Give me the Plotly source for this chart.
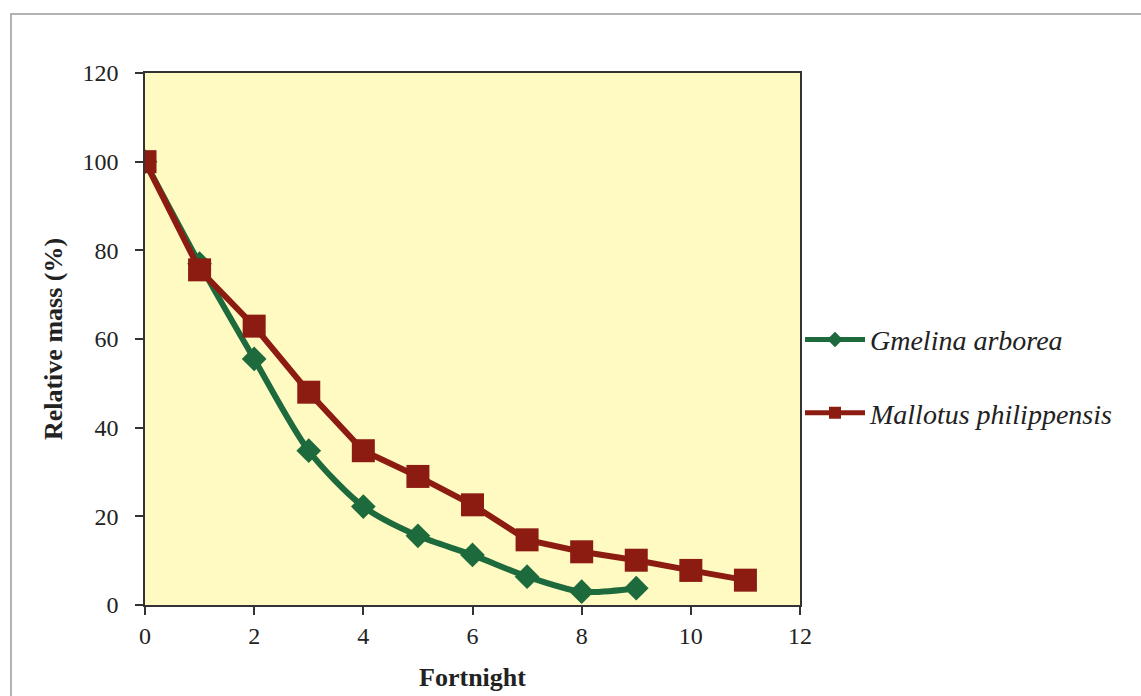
import plotly.graph_objects as go

# Relative mass remaining in litter bags, sampled every fortnight
fortnight_gmelina = [0, 1, 2, 3, 4, 5, 6, 7, 8, 9]
mass_gmelina = [100, 77, 55.5, 34.8, 22.2, 15.6, 11.3, 6.4, 3.0, 3.8]

fortnight_mallotus = [0, 1, 2, 3, 4, 5, 6, 7, 8, 9, 10, 11]
mass_mallotus = [100, 75.6, 62.9, 48.0, 34.8, 29.0, 22.6, 14.7, 12.0, 10.1, 7.8, 5.6]

x_ticks = [0, 2, 4, 6, 8, 10, 12]
y_ticks = [0, 20, 40, 60, 80, 100, 120]

GREEN = "#1d6a3c"
RED = "#8c1c12"
SERIF = "Liberation Serif, Times New Roman, serif"

fig = go.Figure()

fig.add_trace(go.Scatter(
    x=fortnight_gmelina, y=mass_gmelina,
    name="Gmelina arborea", legendgroup="g",
    mode="lines+markers",
    line=dict(color=GREEN, width=6, shape="spline", smoothing=0.8),
    marker=dict(symbol="diamond", size=19, color=GREEN),
))

fig.add_trace(go.Scatter(
    x=fortnight_mallotus, y=mass_mallotus,
    name="Mallotus philippensis", legendgroup="m",
    mode="lines+markers",
    line=dict(color=RED, width=6),
    marker=dict(symbol="square", size=23, color=RED),
))

axis_common = dict(
    showgrid=False, zeroline=False, automargin=False,
    showline=True, linecolor="#333333", linewidth=1.5, mirror=True,
    ticks="outside", ticklen=8, tickcolor="#333333", tickwidth=1.5,
    tickfont=dict(family=SERIF, size=24, color="#222222"),
)

fig.update_xaxes(
    range=[0, 12], tickvals=x_ticks,
    title=dict(text="<b>Fortnight</b>", font=dict(family=SERIF, size=26, color="#222222"), standoff=20),
    **axis_common,
)
fig.update_yaxes(
    range=[0, 120], tickvals=y_ticks, ticklabelstandoff=12,
    title=dict(text="<b>Relative mass (%)</b>", font=dict(family=SERIF, size=26, color="#222222"), standoff=12),
    **axis_common,
)

# thin grey frame around the whole chart
fig.add_shape(
    type="rect", xref="paper", yref="paper",
    x0=-0.2046, x1=1.53, y0=-0.2, y1=1.111,
    line=dict(color="#9a9a9a", width=1.5), fillcolor="rgba(0,0,0,0)", layer="below",
)

fig.update_layout(
    width=1141, height=696,
    margin=dict(l=145, r=341, t=73, b=91),
    paper_bgcolor="white",
    plot_bgcolor="#fefac2",
    showlegend=True,
    legend=dict(
        x=1.0, xanchor="left", y=0.43, yanchor="middle",
        font=dict(family=SERIF, size=28, color="#222222", style="italic"),
        bgcolor="rgba(0,0,0,0)",
        traceorder="grouped", tracegroupgap=34,
        itemwidth=60, itemsizing="constant",
    ),
)

fig.write_html("out.html")
